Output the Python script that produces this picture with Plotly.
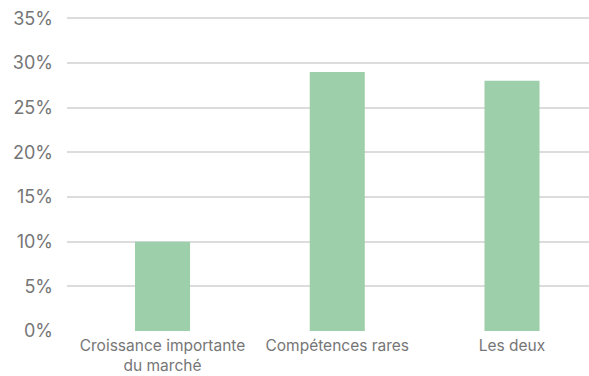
import plotly.graph_objects as go

categories = ["Croissance importante<br>du marché", "Compétences rares", "Les deux"]
values = [10, 29, 28]
y_ticks = [0, 5, 10, 15, 20, 25, 30, 35]

fig = go.Figure(go.Bar(
    x=categories, y=values,
    marker=dict(color="#9dcfab", line=dict(width=0)),
    width=0.315,
    hoverinfo="skip",
))

fig.update_layout(
    width=589, height=376,
    margin=dict(l=67, r=0, t=17, b=45),
    paper_bgcolor="white", plot_bgcolor="white",
    font=dict(family="Inter", color="#767676"),
    showlegend=False,
    xaxis=dict(
        range=[-0.5465, 2.4406],
        showgrid=False, showline=False, zeroline=False,
        tickfont=dict(size=15.5, color="#767676"),
        ticks="", ticklabelstandoff=3,
    ),
    yaxis=dict(
        range=[0, 35.15], tickvals=y_ticks,
        ticktext=[f"{v}%" for v in y_ticks],
        showgrid=True, gridcolor="#dcdcdc", gridwidth=1.5,
        zeroline=False, showline=False,
        tickfont=dict(size=18, color="#767676"),
        ticks="", ticklabelstandoff=13,
    ),
)

fig.write_html("out.html", config={"displayModeBar": False})
with open("out.html", encoding="utf-8") as f:
    html = f.read()
html = html.replace("<head>", "<head><style>html,body{margin:0;padding:0;overflow:hidden}</style>", 1)
with open("out.html", "w", encoding="utf-8") as f:
    f.write(html)
